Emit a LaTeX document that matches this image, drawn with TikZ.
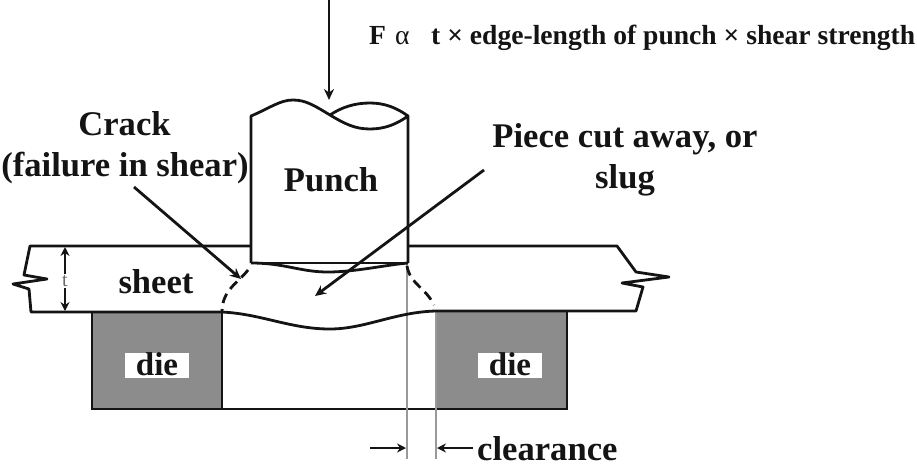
\documentclass[tikz,border=0pt]{standalone}
\usepackage{fontspec}
\setmainfont{Liberation Serif}
\usetikzlibrary{arrows.meta}
\definecolor{diegray}{gray}{0.55}
\definecolor{inkc}{gray}{0.08}
\definecolor{guidec}{gray}{0.6}
\tikzset{
 x=1pt,y=-1pt,
 outline/.style={draw=inkc,line width=2.8pt,line join=round},
 arrowline/.style={draw=inkc,line width=2.8pt,-{Stealth[length=11pt,width=10pt]}},
 smallarrow/.style={draw=inkc,line width=2.3pt,{Stealth[length=9pt,width=9pt]}-{Stealth[length=9pt,width=9pt]}},
 crack/.style={draw=inkc,line width=2.8pt,dash pattern=on 10pt off 6pt},
 guide/.style={draw=guidec,line width=2.8pt},
 diefill/.style={fill=diegray,draw=inkc,line width=2.6pt},
 lab/.style={font=\bfseries\fontsize{34.6}{38}\selectfont,text=inkc,inner sep=0pt,anchor=base},
 dielab/.style={font=\bfseries\fontsize{33}{36}\selectfont,text=inkc,inner sep=0pt,anchor=base},
 whitebox/.style={fill=white,minimum width=64pt,minimum height=25pt,inner sep=0pt},
 formulafont/.style={font=\bfseries\fontsize{27.6}{30}\selectfont,text=inkc,inner sep=0pt,anchor=base west},
}
\begin{document}
\begin{tikzpicture}
\useasboundingbox (0,0) rectangle (917,471);
% dies
\coordinate (dL1) at (92,312); \coordinate (dL2) at (222,409);
\coordinate (dR1) at (436,311); \coordinate (dR2) at (567,409);
\draw[diefill] (dL1) rectangle (dL2);
\draw[diefill] (dR1) rectangle (dR2);
\node[whitebox] (dieLbox) at (157,365) {};
\node[whitebox] (dieRbox) at (510,365) {};
\node[dielab] (dieLt) at (157,375) {die};
\node[dielab] (dieRt) at (510,375) {die};
\draw[outline] (dL2) -- (436,409);
% guides
\coordinate (g1a) at (407,262); \coordinate (g1b) at (407,459);
\coordinate (g2a) at (436,311); \coordinate (g2b) at (436,459);
\draw[guide] (g1a) -- (g1b);
\draw[guide] (g2a) -- (g2b);
% sheet
\draw[outline] (251,246) -- (30,246) -- (24,275) -- (47,279) -- (13,284) -- (29,289) -- (31,312) -- (222,312);
\draw[outline] (408,246) -- (617,246) -- (636,272) -- (669,277) -- (622,283) -- (643,287) -- (636,311) -- (436,311);
% slug underside
\draw[outline] (222,312) .. controls (262,314) and (290,329) .. (330,329) .. controls (365,329) and (395,312) .. (436,311);
% punch
\coordinate (pTL) at (251,116); \coordinate (pTR) at (408,116); \coordinate (pX) at (330,115);
\coordinate (pBL) at (251,263); \coordinate (pBR) at (408,263);
\draw[outline] (pBL) -- (pTL) .. controls (270,108) and (280,100) .. (293,100) .. controls (306,100) and (315,106) .. (pX) .. controls (345,124) and (355,129) .. (370,129) .. controls (385,129) and (397,124) .. (pTR) -- (pBR);
\draw[outline] (pX) .. controls (342,107) and (355,103) .. (370,103) .. controls (385,103) and (397,108) .. (pTR);
\draw[outline] (pBL) -- (pBR);
\draw[outline] (pBL) .. controls (285,263) and (300,272) .. (328,272) .. controls (355,272) and (385,265) .. (pBR);
% cracks
\draw[crack] (248,270) .. controls (238,283) and (222,290) .. (222,312);
\draw[crack] (407,266) .. controls (410,284) and (426,288) .. (434,305);
% text
\node[lab] (crack) at (124.5,135) {Crack};
\node[lab] (fail) at (125,176) {(failure in shear)};
\node[lab] (punch) at (331,191) {Punch};
\node[lab] (piece) at (625,147) {Piece cut away, or};
\node[lab] (slug) at (625,188) {slug};
\node[lab] (sheet) at (156,293) {sheet};
\node[lab,anchor=base west] (clear) at (477,460) {clearance};
\node[formulafont] (fF) at (369,44) {F};
\node[formulafont,font=\fontsize{27.6}{30}\selectfont] (fA) at (395,44) {α};
\node[formulafont] (formula) at (431,44) {t × edge-length of punch × shear strength};
% arrows
\coordinate (fTop) at (329,0); \coordinate (fTip) at (329,100);
\draw[arrowline] (fTop) -- (fTip);
\coordinate (cTail) at (134,187); \coordinate (cTip) at (241,279);
\draw[arrowline] (cTail) -- (cTip);
\coordinate (sTail) at (484,170); \coordinate (sTip) at (315,296);
\draw[arrowline] (sTail) -- (sTip);
\coordinate (tTop) at (65,247); \coordinate (tBot) at (65,311);
\draw[smallarrow] (tTop) -- (tBot);
\node[fill=white,inner sep=1pt,text=guidec!70!black,font=\fontsize{20}{22}\selectfont] (tlab) at (65,281) {t};
\coordinate (clA) at (370,448); \coordinate (clB) at (406,448);
\coordinate (clC) at (473,448); \coordinate (clD) at (437,448);
\draw[arrowline,-{Stealth[length=9pt,width=9pt]}] (clA) -- (clB);
\draw[arrowline,-{Stealth[length=9pt,width=9pt]}] (clC) -- (clD);
\end{tikzpicture}
\end{document}
